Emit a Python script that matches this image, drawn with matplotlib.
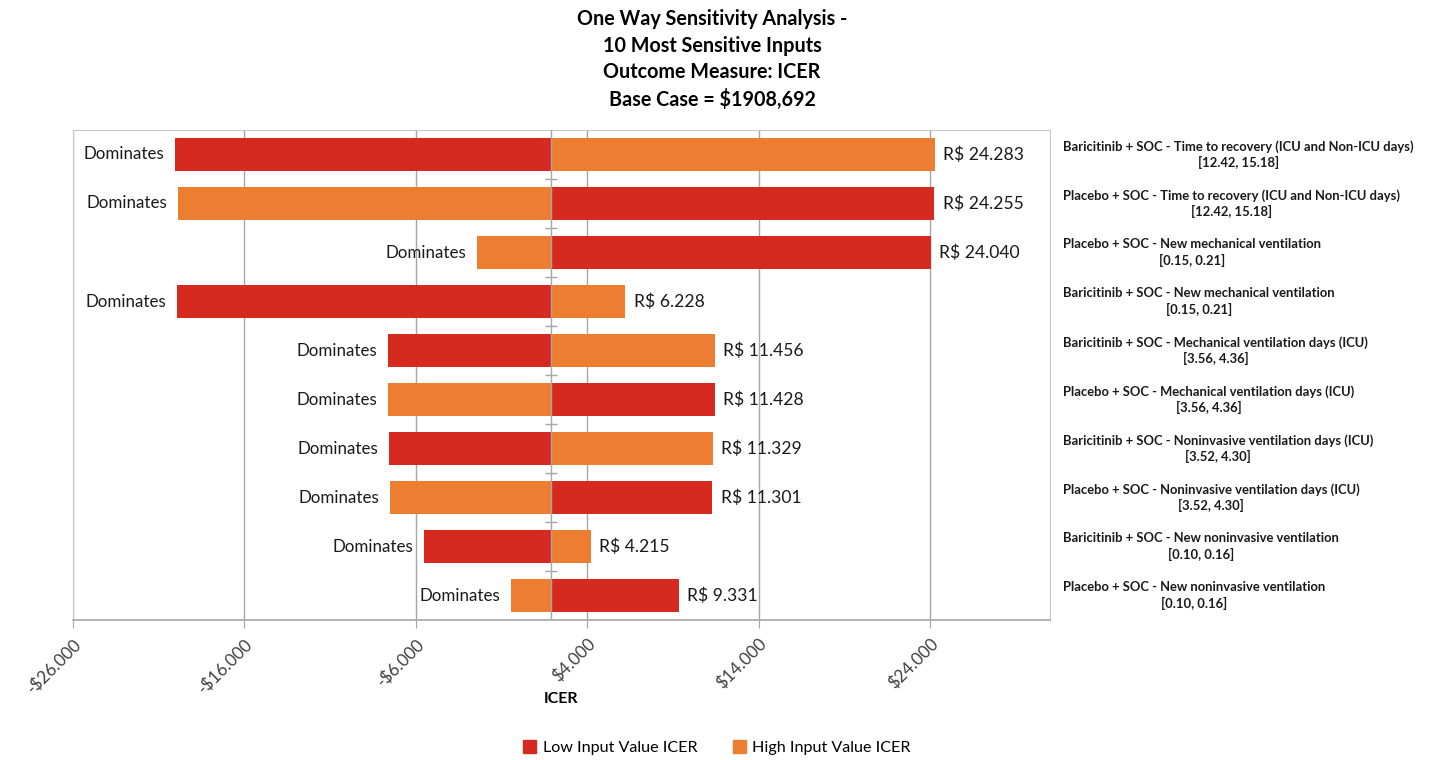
"""Tornado chart: one way sensitivity analysis of the ICER."""
import numpy as np
import matplotlib.pyplot as plt
from matplotlib.ticker import FuncFormatter
from matplotlib.patches import Patch
from matplotlib.transforms import blended_transform_factory

plt.rcParams["font.family"] = ["Lato", "DejaVu Sans"]

BASE = 1908.692
inputs = [
    "Baricitinib + SOC - Time to recovery (ICU and Non-ICU days)\n[12.42, 15.18]",
    "Placebo + SOC - Time to recovery (ICU and Non-ICU days)\n[12.42, 15.18]",
    "Placebo + SOC - New mechanical ventilation\n[0.15, 0.21]",
    "Baricitinib + SOC - New mechanical ventilation\n[0.15, 0.21]",
    "Baricitinib + SOC - Mechanical ventilation days (ICU)\n[3.56, 4.36]",
    "Placebo + SOC - Mechanical ventilation days (ICU)\n[3.56, 4.36]",
    "Baricitinib + SOC - Noninvasive ventilation days (ICU)\n[3.52, 4.30]",
    "Placebo + SOC - Noninvasive ventilation days (ICU)\n[3.52, 4.30]",
    "Baricitinib + SOC - New noninvasive ventilation\n[0.10, 0.16]",
    "Placebo + SOC - New noninvasive ventilation\n[0.10, 0.16]",
]
low_icer = [-20056, 24255, 24040, -19910, -7596, 11428, -7537, 11301, -5499, 9331]
high_icer = [24283, -19846, -2404, 6228, 11456, -7596, 11329, -7480, 4215, -432]
x_ticks = [-26000, -16000, -6000, 4000, 14000, 24000]

RED = "#D62A20"
ORANGE = "#ED7D31"
GRID = "#A6A6A6"


def money_tick(v, _pos=None):
    sign = "-" if v < 0 else ""
    return f"{sign}${abs(v):,.0f}".replace(",", ".")


def bar_label(v):
    if v < 0:
        return "Dominates"
    return f"R$ {v:,.0f}".replace(",", ".")


fig = plt.figure(figsize=(14.34, 7.6), dpi=100)
ax = fig.add_axes([0.0509, 0.184, 0.6813, 0.645])

y = np.arange(len(inputs))
low = np.asarray(low_icer, dtype=float)
high = np.asarray(high_icer, dtype=float)

ax.barh(y, low - BASE, left=BASE, height=0.68, color=RED, zorder=3)
ax.barh(y, high - BASE, left=BASE, height=0.68, color=ORANGE, zorder=3)

for yi, lo, hi in zip(y, low, high):
    for v in (lo, hi):
        if v < BASE:
            ax.annotate(bar_label(v), (v, yi), xytext=(-8, 0), textcoords="offset points",
                        ha="right", va="center", fontsize=12.2, color="#1a1a1a")
        else:
            ax.annotate(bar_label(v), (v, yi), xytext=(6, 0), textcoords="offset points",
                        ha="left", va="center", fontsize=12.6, color="#1a1a1a")

# category axis placed at base case value
ax.axvline(BASE, color=GRID, lw=1.0, zorder=4)
ax.plot(np.full(len(inputs) - 1, BASE), y[:-1] + 0.5, ls="none", marker="_",
        ms=9, mew=1.0, color=GRID, zorder=4)

trans = blended_transform_factory(ax.transAxes, ax.transData)
for yi, name in zip(y, inputs):
    ax.text(1.0133, yi, name, transform=trans, ha="left", va="center",
            multialignment="center", fontsize=9.4, fontweight="bold",
            linespacing=1.3, color="#1a1a1a")

ax.set_xlim(-26000, 31000)
ax.set_ylim(len(inputs) - 0.5, -0.5)
ax.set_yticks([])
ax.set_xticks(x_ticks)
ax.xaxis.set_major_formatter(FuncFormatter(money_tick))
ax.grid(axis="x", color=GRID, lw=1.0, zorder=0)
for lbl in ax.get_xticklabels():
    lbl.set_rotation(45)
    lbl.set_ha("right")
    lbl.set_rotation_mode("anchor")
ax.tick_params(axis="x", length=6, color=GRID, labelsize=12.3, labelcolor="#404040", pad=5)
for side in ("top", "left", "right"):
    ax.spines[side].set_color("#C8C8C8")
ax.spines["bottom"].set_color(GRID)
ax.spines["bottom"].set_linewidth(1.2)

ax.set_xlabel("ICER", fontsize=11.5, fontweight="bold", labelpad=-3)

fig.text(0.4965, 0.988,
         "One Way Sensitivity Analysis -\n10 Most Sensitive Inputs\n"
         "Outcome Measure: ICER\nBase Case = $1908,692",
         ha="center", va="top", fontsize=14.2, fontweight="bold", linespacing=1.4)

handles = [Patch(color=RED, label="Low Input Value ICER"),
           Patch(color=ORANGE, label="High Input Value ICER")]
fig.legend(handles=handles, loc="center", bbox_to_anchor=(0.5, 0.016), ncol=2,
           frameon=False, fontsize=11.6, handlelength=0.8, handleheight=0.8,
           handletextpad=0.4, columnspacing=2.2)

fig.savefig("out.png", dpi=100)
